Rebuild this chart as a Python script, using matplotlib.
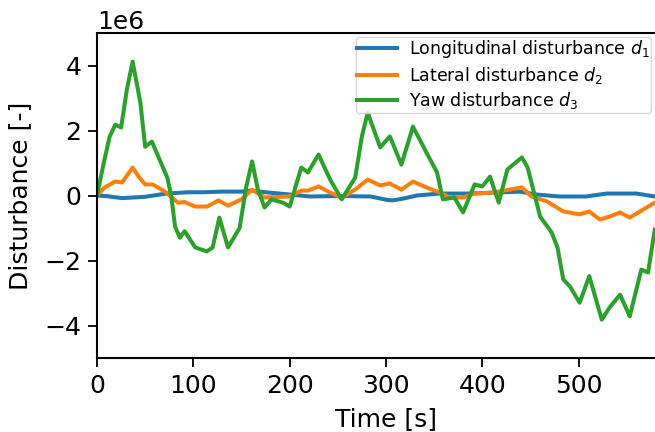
import numpy as np
import matplotlib
matplotlib.use("Agg")
import matplotlib.pyplot as plt

# values in units of 1e6
t_long = [0, 10, 26, 50, 72, 95, 111, 130, 150, 160, 175, 200, 221, 240, 260, 284, 302, 307, 317,
          332, 356, 385, 415, 439, 456, 480, 508, 529, 560, 579]
d_long = [0.0, -0.02, -0.08, -0.04, 0.06, 0.10, 0.10, 0.12, 0.12, 0.15, 0.10, 0.03, -0.03, -0.02,
          -0.02, -0.03, -0.14, -0.15, -0.10, 0.00, 0.06, 0.06, 0.09, 0.12, 0.03, -0.03, -0.03,
          0.06, 0.06, -0.03]

t_lat = [0, 8, 19, 26, 37, 44, 50, 58, 72, 84, 91, 102, 114, 120, 126, 136, 150, 161, 174, 200,
         212, 219, 230, 242, 254, 268, 281, 294, 304, 316, 328, 342, 356, 366, 380, 392, 411, 428,
         441, 451, 467, 484, 501, 511, 522, 532, 543, 553, 567, 579]
d_lat = [0.0, 0.25, 0.43, 0.40, 0.86, 0.55, 0.34, 0.34, 0.09, -0.22, -0.20, -0.34, -0.34, -0.25,
         -0.15, -0.31, -0.12, 0.18, -0.06, -0.03, 0.15, 0.15, 0.28, 0.09, -0.06, 0.18, 0.49, 0.31,
         0.37, 0.18, 0.43, 0.25, 0.09, -0.06, -0.06, 0.06, 0.09, 0.18, 0.25, -0.03, -0.18, -0.49,
         -0.58, -0.49, -0.74, -0.65, -0.52, -0.68, -0.43, -0.22]

t_yaw = [0, 7, 13, 19, 25, 31, 37, 45, 50, 57, 65, 73, 77, 81, 86, 91, 102, 114, 120, 127, 136,
         148, 155, 161, 167, 174, 181, 193, 200, 212, 219, 230, 242, 254, 268, 275, 281, 294, 304,
         316, 328, 342, 353, 359, 371, 380, 392, 400, 408, 417, 426, 432, 441, 447, 452, 460, 472,
         478, 484, 491, 501, 511, 524, 532, 543, 553, 565, 572, 579]
d_yaw = [0.0, 1.0, 1.8, 2.18, 2.09, 3.26, 4.12, 2.86, 1.5, 1.66, 1.1, 0.55, 0.0, -0.95, -1.3, -1.1,
         -1.6, -1.72, -1.6, -0.68, -1.6, -1.0, 0.28, 1.05, 0.18, -0.37, -0.12, -0.22, -0.34, 0.86,
         0.71, 1.26, 0.49, -0.12, 0.55, 1.82, 2.55, 1.48, 1.82, 0.95, 2.12, 1.32, 0.71, -0.12, -0.06,
         -0.52, 0.34, 0.28, 0.58, -0.22, 0.8, 0.95, 1.17, 0.86, 0.28, -0.65, -1.14, -1.6, -2.58, -2.8,
         -3.3, -2.48, -3.82, -3.45, -3.05, -3.72, -2.28, -2.37, -1.05]

x_ticks = [0, 100, 200, 300, 400, 500]

fig = plt.figure(figsize=(6.55, 4.32), dpi=100)
ax = fig.add_axes([97 / 655, 74 / 432, 578 / 655, 325 / 432])

ax.plot(t_long, np.array(d_long) * 1e6, lw=2.9, color="tab:blue", label="Longitudinal disturbance $d_1$")
ax.plot(t_lat, np.array(d_lat) * 1e6, lw=2.9, color="tab:orange", label="Lateral disturbance $d_2$")
ax.plot(t_yaw, np.array(d_yaw) * 1e6, lw=2.9, color="tab:green", label="Yaw disturbance $d_3$")

ax.set_xlim(0, 600)
ax.set_ylim(-5e6, 5e6)
ax.set_xticks(x_ticks)
ax.set_yticks([-4e6, -2e6, 0, 2e6, 4e6])
ax.tick_params(labelsize=18, length=6.8, width=1.3, pad=4.5)
ax.yaxis.get_offset_text().set_fontsize(18)
for s in ax.spines.values():
    s.set_linewidth(1.5)
ax.set_xlabel("Time [s]", fontsize=18, labelpad=7)
ax.set_ylabel("Disturbance [-]", fontsize=18, labelpad=9)
ax.legend(loc="upper left", bbox_to_anchor=(0.4476, 0.9886), borderaxespad=0, fontsize=12.5,
          labelspacing=0.25, borderpad=0.1, handlelength=2.25, handletextpad=0.7)

fig.savefig("out.png", dpi=100)
